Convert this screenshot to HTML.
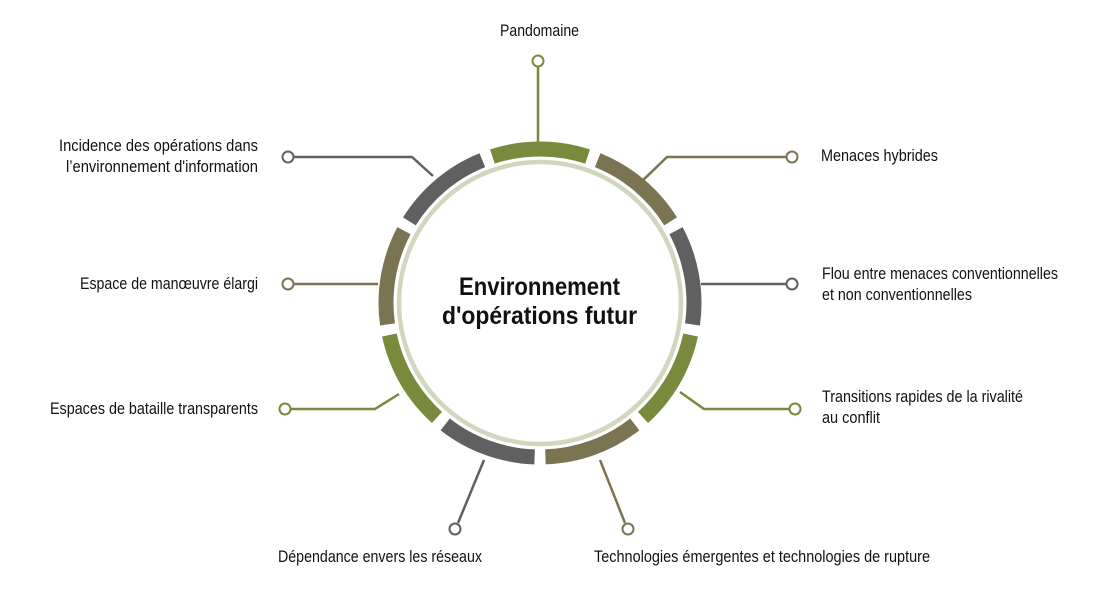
<!DOCTYPE html>
<html><head><meta charset="utf-8"><style>
html,body{margin:0;padding:0;background:#fff;}
svg{display:block;}
text{font-family:"Liberation Sans Narrow","Liberation Sans",sans-serif;font-size:17px;fill:#111;}
.c{font-weight:bold;font-size:25px;}
</style></head><body>
<svg width="1108" height="608" viewBox="0 0 1108 608" xmlns="http://www.w3.org/2000/svg">
<circle cx="540" cy="303" r="141" fill="none" stroke="#d3d6bf" stroke-width="4.5"/>
<g fill="none" stroke-width="15" stroke-linecap="butt">
<path d="M492.4,156.5 A154,154 0 0 1 587.6,156.5" stroke="#798a3c"/>
<path d="M597.7,160.2 A154,154 0 0 1 670.6,221.4" stroke="#7a7453"/>
<path d="M676.0,230.7 A154,154 0 0 1 692.5,324.4" stroke="#606060"/>
<path d="M690.6,335.0 A154,154 0 0 1 643.0,417.4" stroke="#798a3c"/>
<path d="M634.8,424.4 A154,154 0 0 1 545.4,456.9" stroke="#7a7453"/>
<path d="M534.6,456.9 A154,154 0 0 1 445.2,424.4" stroke="#606060"/>
<path d="M437.0,417.4 A154,154 0 0 1 389.4,335.0" stroke="#798a3c"/>
<path d="M387.5,324.4 A154,154 0 0 1 404.0,230.7" stroke="#7a7453"/>
<path d="M409.4,221.4 A154,154 0 0 1 482.3,160.2" stroke="#606060"/>
</g>
<g fill="none" stroke-width="2.5">
<polyline points="538,142 538,66" stroke="#798a3c"/>
<polyline points="643.5,179.7 667,157 787,157" stroke="#7a7453"/>
<polyline points="701,284 787,284" stroke="#606060"/>
<polyline points="680,392 704,409 790,409" stroke="#798a3c"/>
<polyline points="600,460 625,523" stroke="#7a7453"/>
<polyline points="484,460 458,523" stroke="#606060"/>
<polyline points="290,409 375,409 399,394" stroke="#798a3c"/>
<polyline points="293,284 378,284" stroke="#7a7453"/>
<polyline points="293,157 412,157 433,176" stroke="#606060"/>
</g>
<g fill="#fff" stroke-width="2">
<circle cx="538" cy="61" r="5.5" stroke="#798a3c"/>
<circle cx="792" cy="157" r="5.5" stroke="#7a7453"/>
<circle cx="792" cy="284" r="5.5" stroke="#606060"/>
<circle cx="795" cy="409" r="5.5" stroke="#798a3c"/>
<circle cx="628" cy="529" r="5.5" stroke="#7a7453"/>
<circle cx="455" cy="529" r="5.5" stroke="#606060"/>
<circle cx="285" cy="409" r="5.5" stroke="#798a3c"/>
<circle cx="288" cy="284" r="5.5" stroke="#7a7453"/>
<circle cx="288" cy="157" r="5.5" stroke="#606060"/>
</g>
<text class="c" x="459" y="295" textLength="161" lengthAdjust="spacingAndGlyphs">Environnement</text>
<text class="c" x="442" y="324" textLength="195" lengthAdjust="spacingAndGlyphs">d'opérations futur</text>
<text x="500" y="36" textLength="79" lengthAdjust="spacingAndGlyphs">Pandomaine</text>
<text x="59" y="151" textLength="199" lengthAdjust="spacingAndGlyphs">Incidence des opérations dans</text>
<text x="66" y="172" textLength="192" lengthAdjust="spacingAndGlyphs">l’environnement d'information</text>
<text x="80" y="289" textLength="178" lengthAdjust="spacingAndGlyphs">Espace de manœuvre élargi</text>
<text x="50" y="414" textLength="208" lengthAdjust="spacingAndGlyphs">Espaces de bataille transparents</text>
<text x="821" y="161" textLength="117" lengthAdjust="spacingAndGlyphs">Menaces hybrides</text>
<text x="822" y="279" textLength="236" lengthAdjust="spacingAndGlyphs">Flou entre menaces conventionnelles</text>
<text x="822" y="300" textLength="150" lengthAdjust="spacingAndGlyphs">et non conventionnelles</text>
<text x="822" y="402" textLength="201" lengthAdjust="spacingAndGlyphs">Transitions rapides de la rivalité</text>
<text x="822" y="423" textLength="58" lengthAdjust="spacingAndGlyphs">au conflit</text>
<text x="278" y="562" textLength="204" lengthAdjust="spacingAndGlyphs">Dépendance envers les réseaux</text>
<text x="594" y="562" textLength="336" lengthAdjust="spacingAndGlyphs">Technologies émergentes et technologies de rupture</text>
</svg>
</body></html>
